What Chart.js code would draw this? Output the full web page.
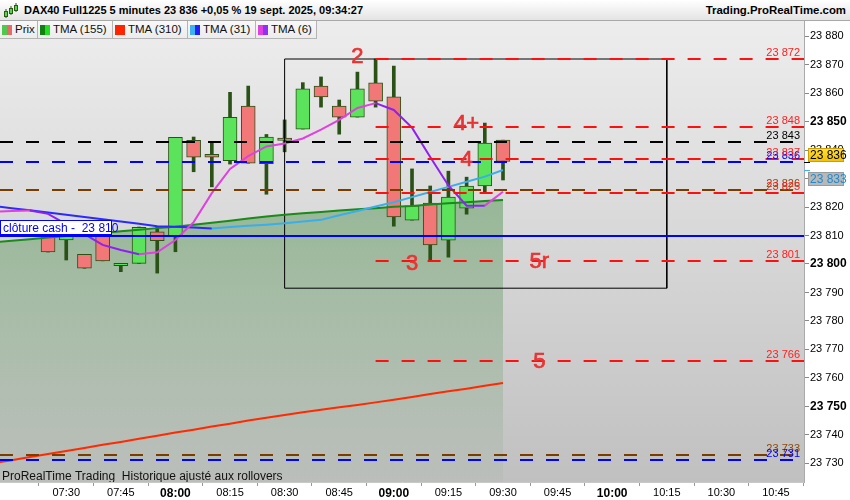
<!DOCTYPE html>
<html>
<head>
<meta charset="utf-8">
<script src="https://cdn.jsdelivr.net/npm/chart.js@4.4.1/dist/chart.umd.min.js"></script>
<style>
body { margin: 0; width: 850px; height: 500px; overflow: hidden; position: relative; background: #fff; font-family: "Liberation Sans", Arial, sans-serif; }
#head { position: absolute; left: 0; top: 0; width: 850px; height: 20px; background: linear-gradient(#ffffff, #e4e4e4); border-bottom: 1px solid #a8a8a8; font-weight: bold; font-size: 11px; line-height: 21px; color: #000; }
#head .t { position: absolute; left: 24px; }
#head .r { position: absolute; right: 4px; font-size: 11.4px; }
#head svg { position: absolute; left: 3px; top: 2px; }
#chartBox { position: absolute; left: 0; top: 21px; width: 850px; height: 479px; }
#legend { position: absolute; left: 0; top: 21px; height: 18px; display: flex; }
.lg { box-sizing: border-box; height: 18px; border-right: 1px solid #b4b4b4; border-bottom: 1px solid #b4b4b4; background: linear-gradient(#f8f8f8, #ececec); font-size: 11.5px; line-height: 17px; padding-left: 2px; display: flex; align-items: center; color: #111; }
.sw { display: inline-block; width: 5px; height: 10px; }
.lg span { margin-left: 3px; }
</style>
</head>
<body>
<div id="head">
  <svg width="16" height="17">
    <line x1="3" y1="7" x2="3" y2="16" stroke="#2b5a12"/><rect x="1.5" y="9.5" width="3" height="5" fill="#55d455" stroke="#2b5a12"/>
    <line x1="8" y1="4" x2="8" y2="13" stroke="#2b5a12"/><rect x="6.5" y="6.5" width="3" height="5" fill="#55d455" stroke="#2b5a12"/>
    <line x1="13" y1="1" x2="13" y2="10" stroke="#2b5a12"/><rect x="11.5" y="3.5" width="3" height="5" fill="#55d455" stroke="#2b5a12"/>
  </svg>
  <span class="t">DAX40 Full1225 5 minutes 23 836 +0,05 % 19 sept. 2025, 09:34:27</span>
  <span class="r">Trading.ProRealTime.com</span>
</div>
<div id="chartBox"><canvas id="daxChart" width="850" height="479"></canvas></div>
<div id="legend">
  <div class="lg" style="width:38px"><i class="sw" style="background:#50c850"></i><i class="sw" style="background:#e66a6a"></i><span>Prix</span></div>
  <div class="lg" style="width:75px"><i class="sw" style="background:#108010"></i><i class="sw" style="background:#22dd22"></i><span>TMA (155)</span></div>
  <div class="lg" style="width:75px"><i class="sw" style="background:#ff2400"></i><i class="sw" style="background:#ff2400"></i><span>TMA (310)</span></div>
  <div class="lg" style="width:68px"><i class="sw" style="background:#40b0f0"></i><i class="sw" style="background:#2020ff"></i><span>TMA (31)</span></div>
  <div class="lg" style="width:61px"><i class="sw" style="background:#e040e0"></i><i class="sw" style="background:#9030f0"></i><span>TMA (6)</span></div>
</div>
<script>
// 5 minute candles
var candleTimes = ['07:25','07:30','07:35','07:40','07:45','07:50','07:55','08:00','08:05','08:10','08:15','08:20','08:25',
                   '08:30','08:35','08:40','08:45','08:50','08:55','09:00','09:05','09:10','09:15','09:20','09:25','09:30'];
var opens  = [23815, 23808.5, 23803.4, 23812, 23799.4, 23800.2, 23811.3, 23809.9, 23843.4, 23838.5, 23836.3, 23855.5, 23835.2,
              23844.2, 23847.4, 23862.5, 23855.5, 23851.6, 23863.6, 23858.7, 23815.4, 23821.4, 23808.4, 23819.6, 23827.4, 23843.5];
var closes = [23804.2, 23810.5, 23798.5, 23801.1, 23800.2, 23812.9, 23808.2, 23844.5, 23837.5, 23837.5, 23851.5, 23835.4, 23844.6,
              23843.4, 23861.5, 23858.7, 23851.6, 23861.5, 23857.2, 23816.5, 23820.4, 23806.7, 23823.5, 23827.4, 23842.5, 23836];
var highs  = [23815.2, 23811, 23803.4, 23812, 23800.2, 23813, 23813.1, 23844.5, 23844.6, 23842.9, 23860.3, 23862.5, 23845.5,
              23850.6, 23863.7, 23865.7, 23857.6, 23867.4, 23872, 23869.5, 23833.4, 23827.4, 23832.6, 23830.5, 23849.5, 23843.5];
var lows   = [23804.2, 23801.4, 23798.5, 23801.1, 23797.3, 23800.2, 23796.8, 23804.3, 23832.4, 23827.1, 23835.1, 23835.4, 23824.5,
              23839.4, 23847.4, 23855.1, 23845.6, 23851.6, 23855.1, 23813.3, 23815.4, 23801, 23802.4, 23817.5, 23825.3, 23829.5];

// moving averages
var tmaTimes = ['07:10','07:15','07:20','07:25','07:30','07:35','07:40','07:45','07:50','07:55','08:00','08:05','08:10','08:15','08:20',
                '08:25','08:30','08:35','08:40','08:45','08:50','08:55','09:00','09:05','09:10','09:15','09:20','09:25','09:30'];
var tma155 = [23807.6, 23808.2, 23808.7, 23809.3, 23809.8, 23810.4, 23810.9, 23811.5, 23812.0, 23812.6, 23813.1, 23813.8, 23814.5, 23815.2, 23816.0,
              23816.7, 23817.3, 23817.8, 23818.3, 23818.8, 23819.2, 23819.6, 23820.1, 23820.4, 23820.9, 23821.3, 23821.7, 23822.1, 23822.5];
var tma310 = [23730.1, 23731.1, 23732.2, 23733.3, 23734.3, 23735.4, 23736.5, 23737.5, 23738.6, 23739.7, 23740.8, 23741.8, 23742.9, 23743.9, 23745.0,
              23746.0, 23747.0, 23747.9, 23748.8, 23749.7, 23750.5, 23751.4, 23752.3, 23753.3, 23754.3, 23755.3, 23756.2, 23757.2, 23758.2];
var tma31  = [23820.4, 23819.6, 23818.9, 23818.1, 23817.3, 23816.5, 23815.7, 23814.9, 23814.1, 23813.3, 23813.1, 23812.8, 23812.5, 23813.0, 23813.4,
              23813.8, 23814.3, 23814.9, 23815.5, 23817.1, 23818.6, 23820.2, 23821.7, 23823.5, 23825.3, 23827.1, 23828.9, 23830.7, 23833.0];
var tma6   = [23818.3, 23818.6, 23818.8, 23817.6, 23814.0, 23810.5, 23806.7, 23804.9, 23803.4, 23804.1, 23808.4, 23814.7, 23824.9, 23833.4, 23837.9,
              23841.3, 23842.3, 23844.1, 23847.2, 23850.6, 23854.8, 23856.5, 23854.1, 23847.9, 23837.6, 23827.6, 23820.5, 23820.5, 23825.4];

// horizontal levels
var redLevels = [23872, 23848, 23837, 23825, 23801, 23766];
var redLevelStart = '08:55';
var otherLevels = [23843, 23836, 23826, 23733, 23731];
var otherLevelColors = ['#000000', '#0000ff', '#7a3d00', '#7a3d00', '#0000ff'];
var closeCash = 23810;

// wave counts
var waveLabels = ['2', '4+', '4', '3', '5r', '5'];
var waveTimes  = ['08:50', '09:20', '09:20', '09:05', '09:40', '09:40'];
var waveValues = [23873, 23849.5, 23837, 23800.5, 23801, 23766];

// rectangle
var boxTimes = ['08:30', '10:15'];
var boxValues = [23872, 23791.5];

// axes
var xTickLabels = ['07:15','07:30','07:45','08:00','08:15','08:30','08:45','09:00','09:15','09:30','09:45','10:00','10:15','10:30','10:45'];
var yTickValues = [23730, 23740, 23750, 23760, 23770, 23780, 23790, 23800, 23810, 23820, 23830, 23840, 23850, 23860, 23870, 23880];

var FONT = '"Liberation Sans", Arial, sans-serif';

function toMin(s) {
    var p = s.split(':');
    return Number(p[0]) * 60 + Number(p[1]);
}
function fmtTime(m) {
    return String(Math.floor(m / 60)).padStart(2, '0') + ':' + String(m % 60).padStart(2, '0');
}
function fmtPrice(v) {
    var s = String(Math.round(v));
    return s.slice(0, s.length - 3) + ' ' + s.slice(-3);
}
function series(times, values) {
    return times.map(function (t, i) { return { x: toMin(t), y: values[i] }; });
}

var isUp = closes.map(function (c, i) { return c >= opens[i]; });

var overlayPlugin = {
    id: 'overlay',
    beforeDraw: function (chart) {
        var ctx = chart.ctx, a = chart.chartArea;
        var g = ctx.createLinearGradient(0, a.top, 0, a.bottom);
        g.addColorStop(0, '#ededed');
        g.addColorStop(1, '#c0c0c0');
        ctx.save();
        ctx.fillStyle = g;
        ctx.fillRect(a.left, a.top, a.right - a.left, a.bottom - a.top);
        ctx.restore();
    },
    afterDatasetsDraw: function (chart) {
        var ctx = chart.ctx, a = chart.chartArea, x = chart.scales.x, y = chart.scales.y;
        ctx.save();
        ctx.beginPath();
        ctx.rect(a.left, a.top, a.right - a.left, a.bottom - a.top);
        ctx.clip();

        function dashed(v, x0, color) {
            var py = Math.round(y.getPixelForValue(v));
            ctx.strokeStyle = color;
            ctx.lineWidth = 2;
            ctx.setLineDash([13, 13]);
            ctx.beginPath();
            ctx.moveTo(x0, py);
            ctx.lineTo(a.right, py);
            ctx.stroke();
        }
        function label(v, color) {
            var py = Math.round(y.getPixelForValue(v));
            ctx.font = '11px ' + FONT;
            ctx.fillStyle = color;
            ctx.textAlign = 'right';
            ctx.textBaseline = 'alphabetic';
            ctx.fillText(fmtPrice(v), a.right - 4, py - 3);
        }

        var redStart = x.getPixelForValue(toMin(redLevelStart));
        otherLevels.forEach(function (v, i) { dashed(v, a.left, otherLevelColors[i]); });
        redLevels.forEach(function (v) { dashed(v, redStart, '#ff1010'); });

        // cash close
        var pc = Math.round(y.getPixelForValue(closeCash));
        ctx.setLineDash([]);
        ctx.strokeStyle = '#0000ff';
        ctx.lineWidth = 2;
        ctx.beginPath();
        ctx.moveTo(a.left, pc);
        ctx.lineTo(a.right, pc);
        ctx.stroke();
        ctx.fillStyle = '#ffffff';
        ctx.fillRect(a.left, pc - 15, 111, 14);
        ctx.lineWidth = 1;
        ctx.strokeRect(a.left + 0.5, pc - 15.5, 111, 14);
        ctx.font = '12px ' + FONT;
        ctx.fillStyle = '#0000ff';
        ctx.textAlign = 'left';
        ctx.fillText('clôture cash -  ' + fmtPrice(closeCash), a.left + 3, pc - 4);

        otherLevels.forEach(function (v, i) { label(v, otherLevelColors[i] === '#7a3d00' ? '#8a4a10' : otherLevelColors[i]); });
        redLevels.forEach(function (v) { label(v, '#ff2020'); });

        // wave counts
        ctx.font = '22px ' + FONT;
        ctx.fillStyle = '#e83434';
        ctx.strokeStyle = '#e83434';
        ctx.lineWidth = 0.7;
        ctx.textAlign = 'center';
        ctx.textBaseline = 'middle';
        waveLabels.forEach(function (t, i) {
            var px = x.getPixelForValue(toMin(waveTimes[i])), py = y.getPixelForValue(waveValues[i]) + 1;
            ctx.fillText(t, px, py);
            ctx.strokeText(t, px, py);
        });

        ctx.font = '12px ' + FONT;
        ctx.fillStyle = '#111';
        ctx.textAlign = 'left';
        ctx.textBaseline = 'alphabetic';
        ctx.fillText('ProRealTime Trading  Historique ajusté aux rollovers', a.left + 2, a.bottom - 2);
        ctx.restore();
    },
    afterDraw: function (chart) {
        var ctx = chart.ctx, a = chart.chartArea, y = chart.scales.y;
        var last = closes[closes.length - 1];
        var pl = Math.round(y.getPixelForValue(last));
        var lastTma = tma31[tma31.length - 1];
        var pt = Math.round(y.getPixelForValue(lastTma));
        ctx.save();
        ctx.lineWidth = 1;
        ctx.strokeStyle = '#000';
        ctx.beginPath(); ctx.moveTo(a.right, pl + 0.5); ctx.lineTo(a.right + 6, pl + 0.5); ctx.stroke();
        ctx.strokeStyle = '#40b0f0';
        ctx.beginPath(); ctx.moveTo(a.right, pt + 0.5); ctx.lineTo(a.right + 6, pt + 0.5); ctx.stroke();

        var g = ctx.createLinearGradient(0, pl - 14, 0, pl);
        g.addColorStop(0, '#ffe040');
        g.addColorStop(1, '#f2be00');
        ctx.fillStyle = g;
        ctx.fillRect(a.right + 4, pl - 14, 36, 14);
        ctx.strokeStyle = '#c9a000';
        ctx.strokeRect(a.right + 4.5, pl - 13.5, 35, 13);
        ctx.font = '12px ' + FONT;
        ctx.fillStyle = '#000';
        ctx.textBaseline = 'middle';
        ctx.fillText(fmtPrice(last), a.right + 6, pl - 6.5);

        ctx.fillStyle = '#b8b8b8';
        ctx.fillRect(a.right + 4, pt + 2, 36, 14);
        ctx.strokeStyle = '#9a9a9a';
        ctx.strokeRect(a.right + 4.5, pt + 2.5, 35, 13);
        ctx.fillStyle = '#1e8ad0';
        ctx.fillText(fmtPrice(lastTma), a.right + 6, pt + 9.5);
        ctx.restore();
    }
};

function areaFill(c) {
    var a = c.chart.chartArea;
    if (!a) return 'rgba(30,120,30,0.3)';
    var g = c.chart.ctx.createLinearGradient(0, a.top, 0, a.bottom);
    g.addColorStop(0, 'rgba(30,120,30,0.38)');
    g.addColorStop(0.39, 'rgba(30,120,30,0.36)');
    g.addColorStop(1, 'rgba(30,120,30,0.03)');
    return g;
}

var ctx = document.getElementById('daxChart').getContext('2d');
var daxChart = new Chart(ctx, {
    type: 'bar',
    data: {
        datasets: [{
            type: 'line',
            label: 'TMA (6)',
            data: series(tmaTimes, tma6),
            borderWidth: 2,
            pointRadius: 0,
            segment: { borderColor: function (s) { return s.p1.parsed.y > s.p0.parsed.y ? '#e040e0' : '#9020f0'; } },
            order: 1
        }, {
            type: 'line',
            label: 'TMA (31)',
            data: series(tmaTimes, tma31),
            borderWidth: 2,
            pointRadius: 0,
            segment: { borderColor: function (s) { return s.p1.parsed.y > s.p0.parsed.y ? '#3aaeea' : '#2a2aff'; } },
            order: 1
        }, {
            type: 'line',
            label: 'TMA (155)',
            data: series(tmaTimes, tma155),
            borderColor: '#1a8a1a',
            borderWidth: 2,
            pointRadius: 0,
            order: 1
        }, {
            type: 'line',
            label: 'TMA (310)',
            data: series(tmaTimes, tma310),
            borderColor: '#ff2a00',
            borderWidth: 2,
            pointRadius: 0,
            order: 1
        }, {
            type: 'line',
            label: 'Zone',
            data: [
                { x: toMin(boxTimes[0]), y: boxValues[0] }, { x: toMin(boxTimes[1]), y: boxValues[0] },
                { x: toMin(boxTimes[1]), y: boxValues[1] }, { x: toMin(boxTimes[0]), y: boxValues[1] },
                { x: toMin(boxTimes[0]), y: boxValues[0] }
            ],
            borderColor: '#000',
            borderWidth: 1,
            pointRadius: 0,
            order: 1
        }, {
            label: 'Corps',
            data: candleTimes.map(function (t, i) { return { x: toMin(t), y: [opens[i], closes[i]] }; }),
            backgroundColor: candleTimes.map(function (t, i) { return isUp[i] ? '#5ce35c' : '#f27878'; }),
            borderColor: '#2b5216',
            borderWidth: 1,
            borderSkipped: false,
            barThickness: 14,
            grouped: false,
            order: 2
        }, {
            label: 'Mèches',
            data: candleTimes.map(function (t, i) { return { x: toMin(t), y: [lows[i], highs[i]] }; }),
            backgroundColor: '#2b5216',
            barThickness: 3,
            grouped: false,
            order: 3
        }, {
            type: 'line',
            label: 'Zone TMA',
            data: series(tmaTimes, tma155),
            borderWidth: 0,
            pointRadius: 0,
            fill: 'start',
            backgroundColor: areaFill,
            order: 4
        }]
    },
    options: {
        responsive: false,
        animation: false,
        layout: { padding: 0 },
        plugins: {
            legend: { display: false },
            tooltip: { enabled: false }
        },
        scales: {
            x: {
                type: 'linear',
                min: 431.8,
                max: 652.7,
                offset: false,
                afterBuildTicks: function (s) { s.ticks = xTickLabels.map(function (t) { return { value: toMin(t) }; }); },
                afterFit: function (s) { s.height = 18; s.paddingLeft = 0; s.paddingRight = 0; },
                grid: { drawOnChartArea: false, tickLength: 4, color: '#999' },
                border: { color: '#c8c8c8' },
                ticks: {
                    padding: 0,
                    maxRotation: 0,
                    autoSkip: false,
                    color: '#000',
                    font: function (c) {
                        return c.tick && c.tick.value % 60 === 0 ? { size: 12, weight: 'bold', family: FONT } : { size: 11, family: FONT };
                    },
                    callback: function (v) { return v === toMin(xTickLabels[0]) ? '' : fmtTime(v); }
                }
            },
            y: {
                position: 'right',
                min: 23723.43,
                max: 23885.35,
                afterBuildTicks: function (s) { s.ticks = yTickValues.map(function (v) { return { value: v }; }); },
                afterFit: function (s) { s.width = 46; s.paddingTop = 0; s.paddingBottom = 0; },
                grid: { drawOnChartArea: false, tickLength: 5, color: '#888' },
                border: { color: '#aaa' },
                ticks: {
                    padding: 1,
                    color: '#000',
                    font: function (c) {
                        return c.tick && c.tick.value % 50 === 0 ? { size: 12, weight: 'bold', family: FONT } : { size: 11, family: FONT };
                    },
                    callback: function (v) { return fmtPrice(v); }
                }
            }
        }
    },
    plugins: [overlayPlugin]
});
</script>
</body>
</html>
